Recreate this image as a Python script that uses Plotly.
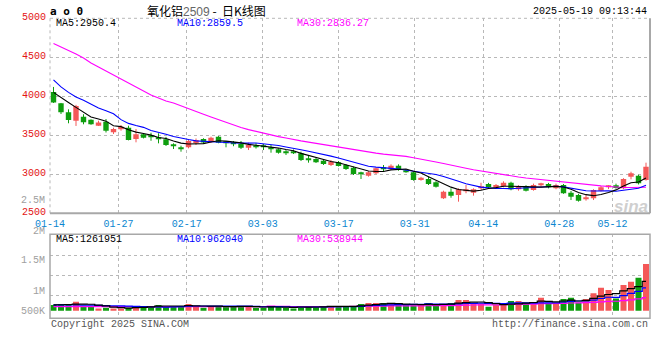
import plotly.graph_objects as go

# ---------------- data ----------------
dates = ["01-14","01-15","01-16","01-17","01-20","01-21","01-22","01-23","01-24","01-27",
         "02-05","02-06","02-07","02-10","02-11","02-12","02-13","02-14","02-17","02-18",
         "02-19","02-20","02-21","02-24","02-25","02-26","02-27","02-28","03-03","03-04",
         "03-05","03-06","03-07","03-10","03-11","03-12","03-13","03-14","03-17","03-18",
         "03-19","03-20","03-21","03-24","03-25","03-26","03-27","03-28","03-31","04-01",
         "04-02","04-03","04-07","04-08","04-09","04-10","04-11","04-14","04-15","04-16",
         "04-17","04-18","04-21","04-22","04-23","04-24","04-25","04-28","04-29","04-30",
         "05-06","05-07","05-08","05-09","05-12","05-13","05-14","05-15","05-16","05-19"]

opens = [4055,3910,3795,3687,3738,3700,3623,3674,3538,3577,
         3597,3453,3513,3500,3474,3449,3365,3336,3346,3402,
         3453,3418,3482,3408,3400,3388,3341,3367,3356,3341,
         3320,3285,3285,3269,3195,3196,3174,3119,3154,3119,
         3085,3015,2982,3013,3075,3068,3110,3046,3026,2927,
         2940,2897,2692,2777,2735,2790,2764,2825,2876,2833,
         2850,2892,2808,2850,2799,2870,2876,2820,2863,2764,
         2735,2680,2692,2790,2838,2860,2820,2970,2982,2927]
highs = [4120,3915,3833,3890,3770,3705,3687,3709,3597,3632,
         3623,3581,3525,3533,3526,3480,3397,3367,3449,3459,
         3462,3482,3490,3427,3427,3427,3405,3400,3388,3376,
         3330,3311,3318,3290,3247,3210,3190,3183,3170,3130,
         3098,3033,3040,3085,3119,3128,3128,3068,3033,2968,
         2969,2912,2790,2820,2820,2863,2820,2892,2890,2876,
         2910,2905,2860,2860,2880,2892,2890,2880,2876,2786,
         2750,2735,2808,2850,2860,2880,2950,3033,2995,3149]
lows = [3915,3773,3654,3620,3641,3635,3620,3536,3517,3559,
        3435,3410,3460,3430,3397,3363,3324,3290,3333,3376,
        3390,3405,3398,3346,3360,3324,3311,3330,3311,3277,
        3265,3247,3260,3170,3149,3145,3120,3106,3100,3055,
        2991,2940,2970,3004,3033,3055,3046,3020,2918,2918,
        2863,2830,2683,2700,2649,2757,2726,2800,2820,2820,
        2833,2795,2790,2780,2790,2841,2820,2808,2750,2670,
        2650,2662,2670,2780,2810,2815,2810,2936,2870,2918]
closes = [3920,3795,3696,3876,3667,3641,3664,3559,3581,3610,
          3440,3513,3469,3480,3453,3376,3360,3330,3427,3440,
          3408,3469,3405,3402,3395,3341,3376,3354,3350,3324,
          3277,3280,3278,3183,3190,3154,3132,3162,3106,3068,
          3004,3004,3026,3077,3065,3110,3055,3033,2927,2956,
          2876,2841,2777,2726,2808,2800,2808,2840,2833,2863,
          2892,2808,2841,2790,2863,2876,2833,2863,2756,2713,
          2662,2700,2799,2833,2845,2825,2940,3013,2885,3097]
volumes = [246500,290000,290000,391500,217500,217500,101500,130500,101500,101500,
           130500,203000,203000,203000,246500,174000,203000,203000,290000,203000,
           130500,174000,203000,203000,174000,203000,174000,130500,130500,203000,
           174000,130500,101500,203000,174000,203000,174000,203000,203000,174000,
           203000,290000,333500,333500,333500,290000,246500,246500,290000,246500,
           333500,217500,290000,333500,464000,464000,319000,319000,174000,246500,
           246500,420500,420500,333500,362500,565500,362500,319000,507500,565500,
           362500,507500,754000,1000500,899000,536500,1116500,1261500,1435500,2030000]

# moving-average values before enough history is visible
ma5_head = [4050, 3980, 3920, 3858]
ma10_head = [4210, 4120, 4050, 3990, 3950, 3900, 3850, 3815, 3775]
ma30_head = [4677, 4632, 4594, 4542, 4491, 4427, 4376, 4324, 4273, 4222,
             4170, 4119, 4068, 4017, 3978, 3940, 3914, 3876, 3840, 3805,
             3770, 3735, 3700, 3665, 3630, 3600, 3573, 3548, 3526]
vma5_head = [250000, 260000, 270000, 285000]
vma10_head = [250000, 250000, 250000, 250000, 245000, 240000, 230000, 222000, 215000]
vma30_head = [180000] * 29

tick_labels = ["01-14", "01-27", "02-17", "03-03", "03-17", "03-31", "04-14", "04-28", "05-12"]
price_ticks = [2500, 3000, 3500, 4000, 4500, 5000]

# ---------------- helpers ----------------
def rolling(values, n, head):
    out = list(head)
    for i in range(len(head), len(values)):
        out.append(sum(values[i - n + 1:i + 1]) / n)
    return out

N = len(dates)
xs = list(range(N))
UP = "#f45858"
DN = "#0e9e0e"
MONO = "Liberation Mono, DejaVu Sans Mono, monospace"
W, H = 660, 360

ma5 = rolling(closes, 5, ma5_head)
ma10 = rolling(closes, 10, ma10_head)
ma30 = rolling(closes, 30, ma30_head)
vma5 = rolling(volumes, 5, vma5_head)
vma10 = rolling(volumes, 10, vma10_head)
vma30 = rolling(volumes, 30, vma30_head)

up = [c >= o for o, c in zip(opens, closes)]
colors = [UP if u else DN for u in up]
body_base = [min(o, c) for o, c in zip(opens, closes)]
body_h = [max(abs(c - o), 13) for o, c in zip(opens, closes)]

fig = go.Figure()

# wicks
for flag, col in ((True, UP), (False, DN)):
    wx, wy = [], []
    for i in xs:
        if up[i] == flag:
            wx += [i, i, None]
            wy += [lows[i], highs[i], None]
    fig.add_trace(go.Scatter(x=wx, y=wy, mode="lines", line=dict(color=col, width=1),
                             xaxis="x", yaxis="y", hoverinfo="skip", showlegend=False))

# candle bodies
fig.add_trace(go.Bar(x=xs, y=body_h, base=body_base, width=0.72,
                     marker=dict(color=colors, line=dict(width=0)),
                     xaxis="x", yaxis="y", showlegend=False))

# price MAs
for vals, col in ((ma30, "#ff00ff"), (ma10, "#0000ff"), (ma5, "#000000")):
    fig.add_trace(go.Scatter(x=xs, y=vals, mode="lines", line=dict(color=col, width=1.1),
                             xaxis="x", yaxis="y", showlegend=False))

# volume bars
fig.add_trace(go.Bar(x=xs, y=volumes, width=0.8,
                     marker=dict(color=colors, line=dict(width=0)),
                     xaxis="x2", yaxis="y2", showlegend=False))
for vals, col in ((vma30, "#ff00ff"), (vma10, "#0000ff"), (vma5, "#000000")):
    fig.add_trace(go.Scatter(x=xs, y=vals, mode="lines", line=dict(color=col, width=1.2, shape="hvh"),
                             xaxis="x2", yaxis="y2", showlegend=False))

# grid positions (sina spaces its date grid slightly wider than the candles)
tick_idx = [dates.index(t) for t in tick_labels]
tick_pos = [(7.6 * i - 3.5) / 7.5 for i in tick_idx]
xr = [-0.4667, N - 0.4667]

def px(x):
    return x / W

def py(y):
    return 1 - y / H

GRID = "#b8b8b8"
FRAME = "#a8a8a8"

fig.update_layout(
    width=W, height=H, margin=dict(l=0, r=0, t=0, b=0, autoexpand=False),
    paper_bgcolor="white", plot_bgcolor="white", barmode="overlay",
    showlegend=False, hovermode=False,
    xaxis=dict(domain=[px(50), px(650)], range=xr, tickvals=tick_pos, ticktext=tick_labels,
               showgrid=True, gridcolor=GRID, griddash="dot", gridwidth=1,
               zeroline=False, showline=False, ticks="", automargin=False,
               ticklabelstandoff=3,
               tickfont=dict(family=MONO, size=10, color="#0a86d0"), anchor="y"),
    yaxis=dict(domain=[py(213.3), py(18.3)], range=[2500, 5000], tickvals=price_ticks,
               ticktext=[str(v) for v in price_ticks], showgrid=True, gridcolor=GRID,
               griddash="dot", zeroline=False, showline=False, ticks="", automargin=False,
               ticklabelshift=-2, ticklabelstandoff=3,
               tickfont=dict(family=MONO, size=10, color="#e31414"), anchor="x"),
    xaxis2=dict(domain=[px(50), px(650)], range=xr, tickvals=tick_pos, showticklabels=False,
                showgrid=True, gridcolor=GRID, griddash="dot", zeroline=False, ticks="",
                automargin=False, anchor="y2"),
    yaxis2=dict(domain=[py(318.3), py(234.3)], range=[-330000, 3323000],
                tickvals=[683000, 1553000, 2423000], showticklabels=False,
                showgrid=True, gridcolor=GRID, griddash="dot", zeroline=False, ticks="",
                automargin=False, anchor="x2"),
)

shapes = [
    # main frame
    dict(type="line", xref="x domain", yref="y domain", x0=0, x1=1, y0=1, y1=1,
         line=dict(color=GRID, width=1, dash="dot")),
    dict(type="line", xref="x domain", yref="y domain", x0=0, x1=0, y0=0, y1=1,
         line=dict(color=GRID, width=1, dash="dot")),
    dict(type="line", xref="x domain", yref="y domain", x0=0, x1=1, y0=0, y1=0,
         line=dict(color=FRAME, width=2)),
    dict(type="line", xref="x domain", yref="y domain", x0=1, x1=1, y0=0, y1=1,
         line=dict(color=FRAME, width=2)),
    # volume frame
    dict(type="rect", xref="x2 domain", yref="y2 domain", x0=0, x1=1, y0=0, y1=1,
         line=dict(color=FRAME, width=1.5)),
]
fig.update_layout(shapes=shapes)

def ann(text, x, y, color="#000", size=10, xanchor="left", family=MONO, **kw):
    fig.add_annotation(text=text, x=px(x), y=py(y), xref="paper", yref="paper",
                       xanchor=xanchor, yanchor="middle", showarrow=False,
                       font=dict(family=family, size=size, color=color), **kw)

# header
ann("<b>a o 0</b>", 48, 12, "#000", 11, family="DejaVu Sans Mono, monospace")
ann('氧化铝<span style="font-family:Arial, Liberation Sans;color:#666">2509</span> -  日K线图',
    206, 10.5, "#000", 12, xanchor="center", family="Noto Sans CJK SC")
ann("2025-05-19 09:13:44", 649, 11, "#000", 10, xanchor="right")

# price MA legend
ann("MA5:2950.4", 54, 24, "#000")
ann("MA10:2859.5", 174.5, 24, "#0000ff")
ann("MA30:2836.27", 295, 24, "#ff00ff")

# volume MA legend
ann("MA5:1261951", 54, 239.5, "#000")
ann("MA10:962040", 174.5, 239.5, "#0000ff")
ann("MA30:538944", 295, 239.5, "#ff00ff")

# volume axis labels (sina's own placement)
for txt, yy in (("2.5M", 200), ("2M", 231), ("1.5M", 260), ("1M", 291), ("500K", 311)):
    ann(txt, 46.5, yy, "#a0a0a0", 10, xanchor="right")

# footer
ann("Copyright 2025 SINA.COM", 49, 324.5, "#555")
ann("http://finance.sina.com.cn", 649.5, 324.5, "#555", xanchor="right")

# watermark
ann("<b><i>sina</i></b>", 650, 207, "#cfcfcf", 17, xanchor="right", family="Arial, Liberation Sans")

fig.write_html("out.html", config={"displayModeBar": False},
               post_script="document.body.style.margin='0';document.body.style.overflow='hidden';")
